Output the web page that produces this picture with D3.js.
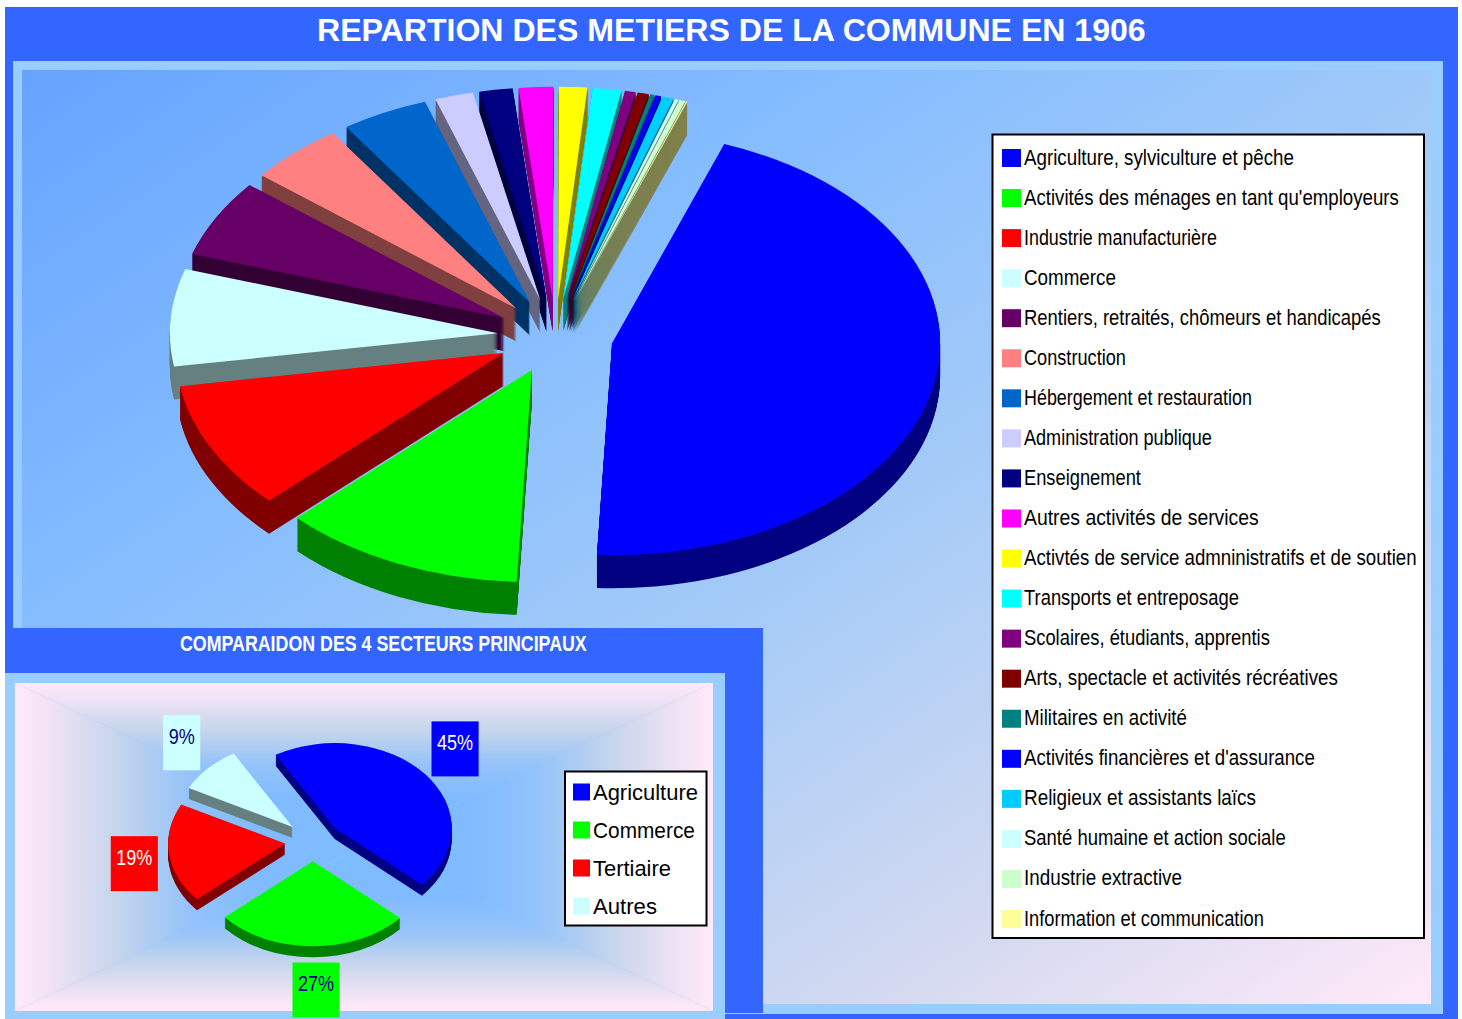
<!DOCTYPE html>
<html>
<head>
<meta charset="utf-8">
<title>Repartion des metiers</title>
<script src="https://cdn.jsdelivr.net/npm/d3@7"></script>
<style>
  html, body { margin: 0; padding: 0; background: #fff; }
  svg { display: block; }
  text { font-family: "Liberation Sans", Arial, sans-serif; }
</style>
</head>
<body>
<svg id="chart" width="1462" height="1019"></svg>
<script>
// data (main pie, % of jobs)
var metiers = ["Agriculture, sylviculture et pêche", "Activités des ménages en tant qu'employeurs",
    "Industrie manufacturière", "Commerce", "Rentiers, retraités, chômeurs et handicapés",
    "Construction", "Hébergement et restauration", "Administration publique", "Enseignement",
    "Autres activités de services", "Activtés de service admninistratifs et de soutien",
    "Transports et entreposage", "Scolaires, étudiants, apprentis", "Arts, spectacle et activités récréatives",
    "Militaires en activité", "Activités financières et d'assurance", "Religieux et assistants laïcs",
    "Santé humaine et action sociale", "Industrie extractive", "Information et communication"];
var metierValues = [45.19, 11.97, 9.78, 7.42, 5.92, 4.72, 4.28, 1.89, 1.64, 1.69, 1.39, 1.42, 0.53, 0.56, 0.22, 0.28, 0.56, 0.19, 0.31, 0.06];
var metierColors = ["#0000ff", "#00ff00", "#ff0000", "#ccffff", "#660066", "#ff8080", "#0066cc", "#ccccff", "#000080",
    "#ff00ff", "#ffff00", "#00ffff", "#800080", "#800000", "#008080", "#0000ff", "#00ccff", "#ccffff", "#ccffcc", "#ffff99"];

var secteurs = ["Agriculture", "Commerce", "Tertiaire", "Autres"];
var secteurValues = [45, 27, 19, 9];
var secteurColors = ["#0000ff", "#00ff00", "#ff0000", "#ccffff"];
var secteurLabelColors = ["#ffffff", "#000080", "#ffffff", "#000080"];

// text widths measured on the picture, the original font is a squeezed arial
var metierTextWidths = [270, 375, 193, 92, 357, 102, 228, 188, 117, 235, 393, 215, 246, 314, 163, 291, 232, 262, 158, 240];
var secteurTextWidths = [105, 102, 78, 64];

var svg = d3.select("#chart");
var defs = svg.append("defs");
var rad = Math.PI / 180;

// frames
function rect(x0, y0, x1, y1, fill) {
    return svg.append("rect").attr("x", x0).attr("y", y0).attr("width", x1 - x0).attr("height", y1 - y0).attr("fill", fill);
}

// squeeze a text to the wanted width
function fitText(sel, x, y, width) {
    var natural = sel.node().getComputedTextLength();
    sel.attr("transform", "translate(" + x + "," + y + ") scale(" + (width / natural) + ",1)");
}

var plotGrad = defs.append("linearGradient").attr("id", "plotGrad")
    .attr("x1", 0).attr("y1", 0).attr("x2", 1).attr("y2", 1);
[[0, "#66a3ff"], [0.3, "#85bdff"], [0.55, "#a5cbf7"], [0.8, "#d3d9f0"], [1, "#ffe9f8"]].forEach(function(s) {
    plotGrad.append("stop").attr("offset", s[0]).attr("stop-color", s[1]);
});

rect(5, 7, 1458, 1019, "#3366ff");
rect(13, 61, 1443, 1014, "#99ccff");
rect(22, 70, 1431, 1004, "url(#plotGrad)");

fitText(svg.append("text").attr("font-size", 32).attr("font-weight", "bold").attr("fill", "#fff")
    .text("REPARTION DES METIERS DE LA COMMUNE EN 1906"), 317, 41, 829);

// draws an exploded pie seen from above, the walls are the slice shifted down pixel by pixel
function drawPie(g, opt) {
    var color = d3.scaleOrdinal().domain(opt.names).range(opt.colors);
    var k = opt.ry / opt.rx;
    var pie = d3.pie().sort(null).startAngle(opt.start * rad).endAngle((opt.start + 360) * rad);
    var arc = d3.arc().innerRadius(0).outerRadius(opt.rx);

    var slices = pie(opt.values).map(function(d, i) {
        var mid = (d.startAngle + d.endAngle) / 2;
        return {
            arc: d,
            name: opt.names[i],
            mid: mid,
            x: opt.cx + opt.explode * Math.sin(mid),
            y: opt.cy - opt.explode * Math.cos(mid) * k
        };
    });

    // back slices first
    slices.slice().sort(function(a, b) { return a.y - b.y; }).forEach(function(s) {
        var c = d3.rgb(color(s.name));
        var wall = d3.rgb(c.r / 2, c.g / 2, c.b / 2);
        var sg = g.append("g");
        d3.range(opt.depth, 0, -1).forEach(function(dz) {
            sg.append("path").attr("d", arc(s.arc)).attr("fill", wall)
                .attr("transform", "translate(" + s.x + "," + (s.y + dz) + ") scale(1," + k + ")");
        });
        sg.append("path").attr("d", arc(s.arc)).attr("fill", c)
            .attr("transform", "translate(" + s.x + "," + s.y + ") scale(1," + k + ")");
    });
    return slices;
}

function drawLegend(opt) {
    svg.append("rect").attr("x", opt.x0).attr("y", opt.y0).attr("width", opt.x1 - opt.x0).attr("height", opt.y1 - opt.y0)
        .attr("fill", "#fff").attr("stroke", "#000").attr("stroke-width", 2);
    var y = d3.scalePoint().domain(opt.names).range([opt.firstRow, opt.lastRow]);
    opt.names.forEach(function(name, i) {
        svg.append("rect").attr("x", opt.swatchX).attr("y", y(name) - opt.swatch / 2)
            .attr("width", opt.swatchW).attr("height", opt.swatch).attr("fill", opt.colors[i]);
        fitText(svg.append("text").attr("font-size", 22).attr("fill", "#000").text(name),
            opt.textX, y(name) + opt.baseline, opt.widths[i]);
    });
}

drawPie(svg.append("g"), {
    names: metiers, values: metierValues, colors: metierColors,
    cx: 555.5, cy: 336, rx: 328, ry: 212, depth: 33, explode: 57.7, start: 20
});

drawLegend({
    names: metiers, colors: metierColors, widths: metierTextWidths,
    x0: 992.5, y0: 134.5, x1: 1424, y1: 938,
    firstRow: 158, lastRow: 919, swatchX: 1002, swatchW: 19, swatch: 18, textX: 1024, baseline: 6.5
});

// small chart panel
rect(5, 628, 763, 1013, "#3366ff");
rect(5, 673, 725, 1019, "#99ccff");

fitText(svg.append("text").attr("font-size", 22).attr("font-weight", "bold").attr("fill", "#fff")
    .text("COMPARAIDON DES 4 SECTEURS PRINCIPAUX"), 180, 651, 407);

// background goes from the centre to the four sides
var px0 = 15, px1 = 713, py0 = 683, py1 = 1011;
var pcx = (px0 + px1) / 2, pcy = (py0 + py1) / 2;
[
    { id: "gT", pts: [[px0, py0], [px1, py0], [pcx, pcy]], v: [pcx, pcy, pcx, py0] },
    { id: "gB", pts: [[px0, py1], [px1, py1], [pcx, pcy]], v: [pcx, pcy, pcx, py1] },
    { id: "gL", pts: [[px0, py0], [px0, py1], [pcx, pcy]], v: [pcx, pcy, px0, pcy] },
    { id: "gR", pts: [[px1, py0], [px1, py1], [pcx, pcy]], v: [pcx, pcy, px1, pcy] }
].forEach(function(side) {
    var lg = defs.append("linearGradient").attr("id", side.id).attr("gradientUnits", "userSpaceOnUse")
        .attr("x1", side.v[0]).attr("y1", side.v[1]).attr("x2", side.v[2]).attr("y2", side.v[3]);
    [[0, "#7fbbff"], [0.3, "#80bbff"], [0.5, "#94c3fa"], [0.72, "#c8d6ec"], [0.9, "#f0e3f5"], [1, "#ffe9f8"]].forEach(function(s) {
        lg.append("stop").attr("offset", s[0]).attr("stop-color", s[1]);
    });
    svg.append("polygon").attr("points", side.pts.join(" ")).attr("fill", "url(#" + side.id + ")");
});

var small = { cx: 313, cy: 841, rx: 117, ry: 85 };
var smallSlices = drawPie(svg.append("g"), {
    names: secteurs, values: secteurValues, colors: secteurColors,
    cx: small.cx, cy: small.cy, rx: small.rx, ry: small.ry, depth: 11, explode: 28, start: -30.3
});

// percent labels sit on an ellipse around the pie, with small nudges to follow the picture
var labelNudges = [[2, 1], [4, 2], [1, 5], [0, 3]];
smallSlices.forEach(function(s, i) {
    var lx = small.cx + 181 * Math.sin(s.mid) + labelNudges[i][0];
    var ly = small.cy - 147 * Math.cos(s.mid) + labelNudges[i][1];
    var g = svg.append("g");
    var box = g.append("rect").attr("fill", secteurColors[i]);
    var label = g.append("text").attr("font-size", 22).attr("fill", secteurLabelColors[i])
        .text(secteurValues[i] + "%");
    var w = label.node().getComputedTextLength() * 0.82;
    fitText(label, lx - w / 2, ly + 1.5, w);
    box.attr("x", lx - w / 2 - 5.5).attr("y", ly - 27.5).attr("width", w + 11).attr("height", 55);
});

drawLegend({
    names: secteurs, colors: secteurColors, widths: secteurTextWidths,
    x0: 565, y0: 771.5, x1: 706.5, y1: 925.5,
    firstRow: 792, lastRow: 906, swatchX: 573, swatchW: 17, swatch: 17, textX: 593, baseline: 7.5
});
</script>
</body>
</html>
